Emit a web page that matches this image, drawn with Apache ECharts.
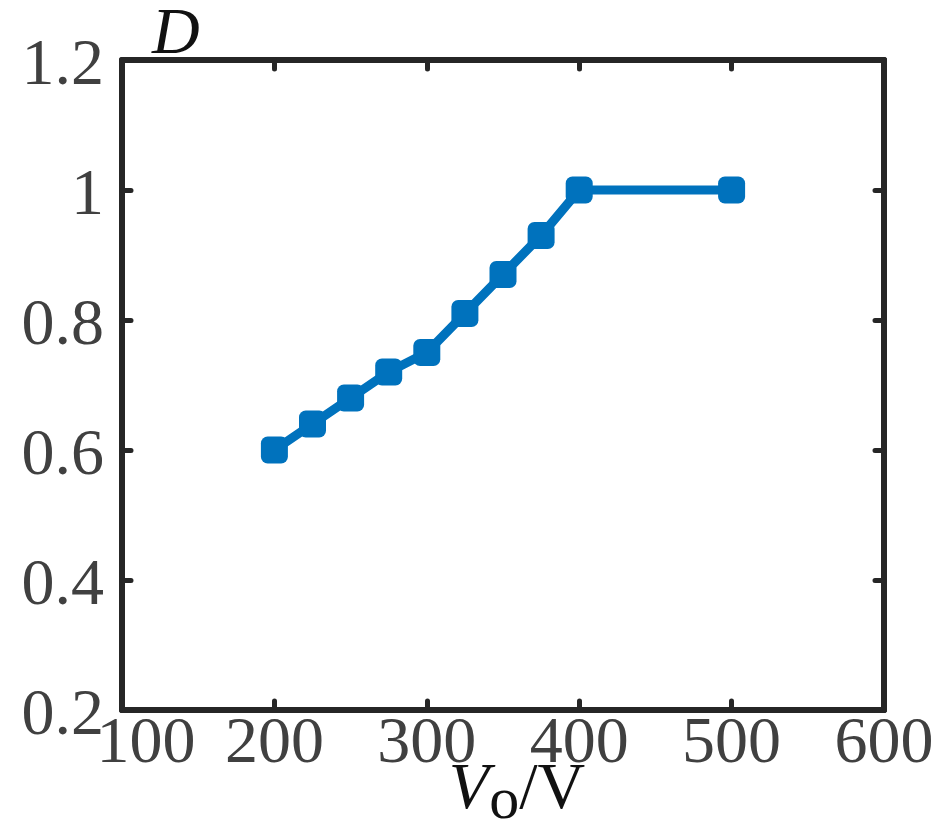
<!DOCTYPE html>
<html>
<head>
<meta charset="utf-8">
<title>D vs Vo</title>
<script src="https://cdn.jsdelivr.net/npm/echarts@6/dist/echarts.min.js"></script>
<style>
  html, body { margin: 0; padding: 0; background: #fff; }
  #chart { width: 939px; height: 833px; }
</style>
</head>
<body>
<div id="chart"></div>
<script>
// 输出电压 Vo (V)
const vo = [200, 225, 250, 275, 300, 325, 350, 375, 400, 500]
// 占空比 D
const duty = [0.6, 0.64, 0.68, 0.72, 0.75, 0.81, 0.87, 0.93, 1.0, 1.0]

const xTicks = { min: 100, max: 600, interval: 100 }
const yTicks = { min: 0.2, max: 1.2, interval: 0.2 }

const serif = '"Liberation Serif", "Times New Roman", serif'
const axisColor = '#262626'
const labelColor = '#404040'
const fontSize = 66

const chart = echarts.init(document.getElementById('chart'))

// 公共的轴线和刻度样式（刻度朝里）
const lineStyle = { color: axisColor, width: 6, cap: 'round' }
const tickStyle = { show: true, inside: true, length: 9, lineStyle: { color: axisColor, width: 5, cap: 'round' } }

const option = {
  animation: false,
  grid: { left: 122, top: 60, right: 55, bottom: 123, outerBoundsMode: 'none' },
  xAxis: [
    {
      type: 'value',
      min: xTicks.min,
      max: xTicks.max,
      interval: xTicks.interval,
      name: '{v|V}{o|o}{n|/V}',
      nameLocation: 'middle',
      nameGap: 40,
      nameMoveOverlap: false,
      nameTextStyle: {
        padding: [0, 0, 0, 28],
        rich: {
          v: { fontFamily: serif, fontSize: fontSize, fontStyle: 'italic', color: '#111' },
          o: { fontFamily: serif, fontSize: 60, color: '#111', padding: [22, 0, 0, 0] },
          n: { fontFamily: serif, fontSize: fontSize, color: '#111' }
        }
      },
      axisLine: { show: true, lineStyle: lineStyle },
      axisTick: tickStyle,
      splitLine: { show: false },
      axisLabel: {
        margin: 2,
        color: labelColor,
        fontFamily: serif,
        fontSize: fontSize,
        // 100 往右挪一点，避免和 0.2 重叠
        formatter: (v) => (v === 100 ? '{first|' + v + '}' : String(v)),
        rich: {
          first: { fontFamily: serif, fontSize: fontSize, color: labelColor, padding: [0, 0, 0, 48] }
        }
      }
    },
    {
      type: 'value',
      position: 'top',
      min: xTicks.min,
      max: xTicks.max,
      interval: xTicks.interval,
      axisLine: { show: true, lineStyle: lineStyle },
      axisTick: tickStyle,
      axisLabel: { show: false },
      splitLine: { show: false }
    }
  ],
  yAxis: [
    {
      type: 'value',
      min: yTicks.min,
      max: yTicks.max,
      interval: yTicks.interval,
      name: 'D',
      nameLocation: 'end',
      nameGap: -9,
      nameMoveOverlap: false,
      nameTextStyle: {
        fontFamily: serif,
        fontSize: fontSize,
        fontStyle: 'italic',
        color: '#111',
        align: 'left',
        padding: [0, 0, 0, 30]
      },
      axisLine: { show: true, lineStyle: lineStyle },
      axisTick: tickStyle,
      splitLine: { show: false },
      axisLabel: {
        margin: 18,
        // 数字比刻度稍微偏下
        formatter: (v) => '{d|' + v + '}',
        rich: {
          d: { fontFamily: serif, fontSize: fontSize, color: labelColor, padding: [14, 0, 0, 0] }
        }
      }
    },
    {
      type: 'value',
      position: 'right',
      min: yTicks.min,
      max: yTicks.max,
      interval: yTicks.interval,
      axisLine: { show: true, lineStyle: lineStyle },
      axisTick: tickStyle,
      axisLabel: { show: false },
      splitLine: { show: false }
    }
  ],
  series: [
    {
      type: 'line',
      data: vo.map((v, i) => [v, duty[i]]),
      symbol: 'roundRect',
      symbolSize: 27,
      showSymbol: true,
      color: '#0072bd',
      lineStyle: { width: 9, color: '#0072bd' },
      itemStyle: { color: '#0072bd' }
    }
  ]
}

chart.setOption(option)
</script>
</body>
</html>
